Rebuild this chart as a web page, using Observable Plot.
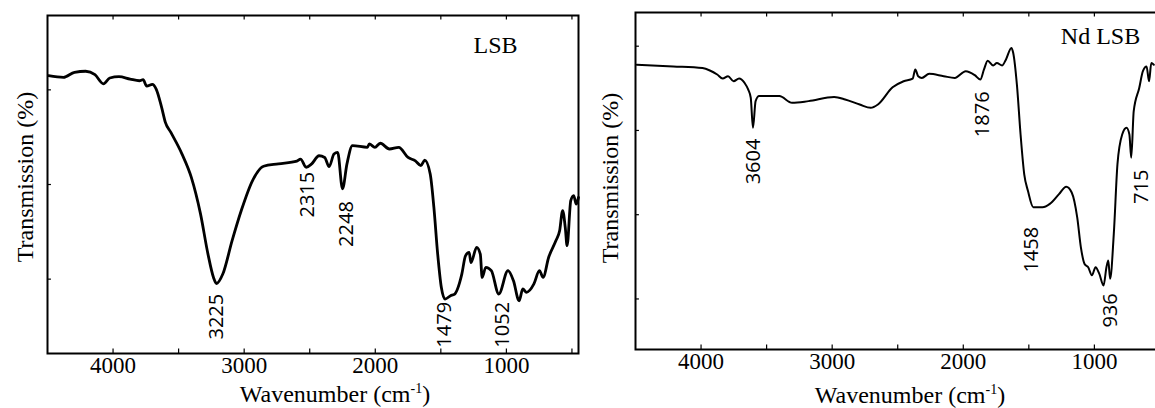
<!DOCTYPE html>
<html><head><meta charset="utf-8">
<script src="https://cdn.jsdelivr.net/npm/d3@7"></script>
<script src="https://cdn.jsdelivr.net/npm/@observablehq/plot@0.6"></script>
<style>
html,body{margin:0;padding:0;background:#fff;}
#wrap{position:relative;width:1155px;height:408px;overflow:hidden;}
#wrap > svg{position:absolute;top:0;}
</style></head><body><div id="wrap"></div>
<script>
// ---- LSB spectrum (wavenumber cm-1, transmission arbitrary %) ----
const lsbWave  = [4492,4378,4294,4209,4138,4073,4025,3955,3870,3799,3771,3743,3700,3672,3630,3601,3559,3474,3403,3333,3276,3234,3211,3163,3092,3022,2937,2852,2739,2598,2570,2527,2485,2429,2386,2352,2315,2287,2250,2216,2174,2060,2046,2003,1962,1892,1821,1750,1694,1652,1623,1581,1553,1524,1496,1468,1426,1397,1340,1312,1284,1270,1227,1199,1185,1157,1115,1058,988,946,903,875,847,790,748,720,678,622,594,571,551,537,509,487,467,450];
const lsbTrans = [82.2,81.7,83.2,83.5,82.5,79.8,81.5,81.9,81.2,80.7,81.0,79.1,79.6,78.3,72.9,68.4,65.4,59.0,52.1,41.3,29.4,22.5,20.7,23.5,33.4,42.3,51.1,55.4,56.1,56.9,57.5,55.1,56.1,58.5,58.0,55.3,59.0,59.5,48.7,56.1,61.5,61.0,62.0,61.0,62.2,60.5,61.0,58.0,57.0,55.6,57.2,53.1,43.2,29.4,19.5,16.1,17.1,17.5,23.5,28.9,29.9,26.9,31.4,29.4,22.5,25.5,24.5,17.6,24.5,21.5,15.6,19.1,18.1,20.6,24.5,22.5,28.4,33.4,36.3,42.3,37.3,31.9,45.2,46.7,44.2,46.2];
const lsbPeakText = ["3225","2315","2248","1479","1052"];
const lsbPeakWave = [3211,2513,2222,1468,1029];
const lsbPeakPos  = [10.9,47.0,38.3,8.5,8.5];

// ---- Nd LSB spectrum ----
const ndWave  = [4490,4212,3989,3933,3877,3835,3794,3752,3710,3668,3640,3621,3604,3584,3557,3403,3306,3180,2985,2901,2790,2706,2651,2539,2455,2386,2366,2344,2316,2260,2149,2065,1981,1912,1870,1842,1814,1772,1744,1703,1675,1633,1619,1591,1563,1535,1507,1466,1396,1340,1270,1215,1173,1131,1103,1075,1047,1019,991,963,930,908,894,880,852,824,788,755,733,719,700,658,630,602,583,566,547];
const ndTrans = [84.5,84.0,83.5,82.8,81.6,80.4,81.1,79.6,80.4,79.1,77.1,74.7,65.8,73.7,75.2,75.2,73.2,73.7,74.9,74.2,72.7,71.7,72.7,77.8,79.6,80.4,83.1,81.1,80.6,81.8,81.1,80.6,82.6,81.4,80.1,83.1,85.7,84.3,85.0,84.3,86.0,89.5,88.0,78.6,63.8,52.0,47.1,42.2,42.2,43.2,46.1,48.3,46.6,39.2,30.3,25.4,24.4,22.0,24.4,22.5,19.0,24.4,26.4,21.0,34.3,55.0,63.8,65.8,63.8,56.9,70.7,77.6,82.6,84.0,79.6,85.0,84.5];
const ndPeakText = ["3604","1876","1458","936","715"];
const ndPeakWave = [3598,1856,1479,880,643];
const ndPeakPos  = [55.8,69.8,29.6,11.6,48.3];

// ---- axes ----
const xDomain = [4500, 450];
const xTickLabels = [4000, 3000, 2000, 1000];
const xMinorTicks = [4000, 3500, 3000, 2500, 2000, 1500, 1000, 500];
const lsbYTicks = [22, 50, 78];
const ndYTicks = [15, 40, 65, 90];

const serif = "'Liberation Serif', 'Times New Roman', serif";
const sans = "'Open Sans', 'Liberation Sans', sans-serif";

function panel(o) {
  const idx = d3.range(o.wave.length);
  const pk = d3.range(o.peakText.length);
  const svg = Plot.plot({
    width: o.width, height: 408,
    marginLeft: o.marginLeft, marginRight: 12, marginTop: o.marginTop, marginBottom: o.marginBottom,
    style: "font-family: " + serif + "; font-size: 23px; background: #fff; color: #000; overflow: visible;",
    x: {domain: xDomain, axis: null},
    y: {domain: [0, 100], axis: null},
    marks: [
      Plot.ruleX(xMinorTicks, {x: d => d, y1: 0, y2: 1.3, stroke: "#000", strokeWidth: 1.2}),
      Plot.ruleX(xMinorTicks, {x: d => d, y1: 100, y2: 98.7, stroke: "#000", strokeWidth: 1.2}),
      Plot.ruleY(o.yTicks, {y: d => d, x1: 4500, x2: 4470, stroke: "#000", strokeWidth: 1.2}),
      Plot.line(idx, {x: i => o.wave[i], y: i => o.trans[i], stroke: "#000", strokeWidth: o.strokeWidth, curve: "monotone-x", strokeLinejoin: "round"}),
      Plot.text(pk, {x: i => o.peakWave[i], y: i => o.peakPos[i], text: i => o.peakText[i], rotate: -90,
        textAnchor: "middle", lineAnchor: "middle", fontFamily: sans, fontSize: 20, fill: "#000"}),
      Plot.text([o.title], {frameAnchor: "top-left", dx: o.titleDx, dy: o.titleDy, textAnchor: "middle", lineAnchor: "middle",
        fontFamily: serif, fontSize: 24, fill: "#000"}),
      Plot.axisX({ticks: xTickLabels, tickSize: 0, tickPadding: 3, tickFormat: d => String(d), label: null, fontSize: 23, fontFamily: serif}),
      Plot.frame({stroke: "#000", strokeWidth: 2})
    ]
  });
  const s = d3.select(svg);
  s.style("position", "absolute").style("left", o.left + "px");
  s.selectAll("g[aria-label='x-axis tick label'], g[aria-label='x-axis tick label'] text")
    .style("font-family", serif).style("font-size", "23px");
  const xl = s.append("text").attr("x", o.xLabelX).attr("y", o.xLabelY)
    .attr("text-anchor", "middle").style("font-family", serif).style("font-size", "24px").attr("fill", "#000");
  xl.append("tspan").text("Wavenumber (cm");
  xl.append("tspan").attr("dy", -9).style("font-size", "14px").text("-1");
  xl.append("tspan").attr("dy", 9).text(")");
  s.append("text").attr("transform", `translate(${o.yLabelX},${o.yLabelY}) rotate(-90)`)
    .attr("text-anchor", "middle").style("font-family", serif).style("font-size", "24px").attr("fill", "#000")
    .text("Transmission (%)");
  return svg;
}

const wrap = document.getElementById("wrap");
wrap.appendChild(panel({
  wave: lsbWave, trans: lsbTrans, peakText: lsbPeakText, peakWave: lsbPeakWave, peakPos: lsbPeakPos,
  yTicks: lsbYTicks, title: "LSB", width: 590, left: 0, marginLeft: 47, marginTop: 15, marginBottom: 55,
  strokeWidth: 2.8, titleDx: 448, titleDy: 30, xLabelX: 335, xLabelY: 402, yLabelX: 33, yLabelY: 177
}));
wrap.appendChild(panel({
  wave: ndWave, trans: ndTrans, peakText: ndPeakText, peakWave: ndPeakWave, peakPos: ndPeakPos,
  yTicks: ndYTicks, title: "Nd LSB", width: 588, left: 590, marginLeft: 45, marginTop: 12, marginBottom: 59,
  strokeWidth: 2, titleDx: 465, titleDy: 24, xLabelX: 320, xLabelY: 403, yLabelX: 28, yLabelY: 178
}));
</script>
</body></html>
